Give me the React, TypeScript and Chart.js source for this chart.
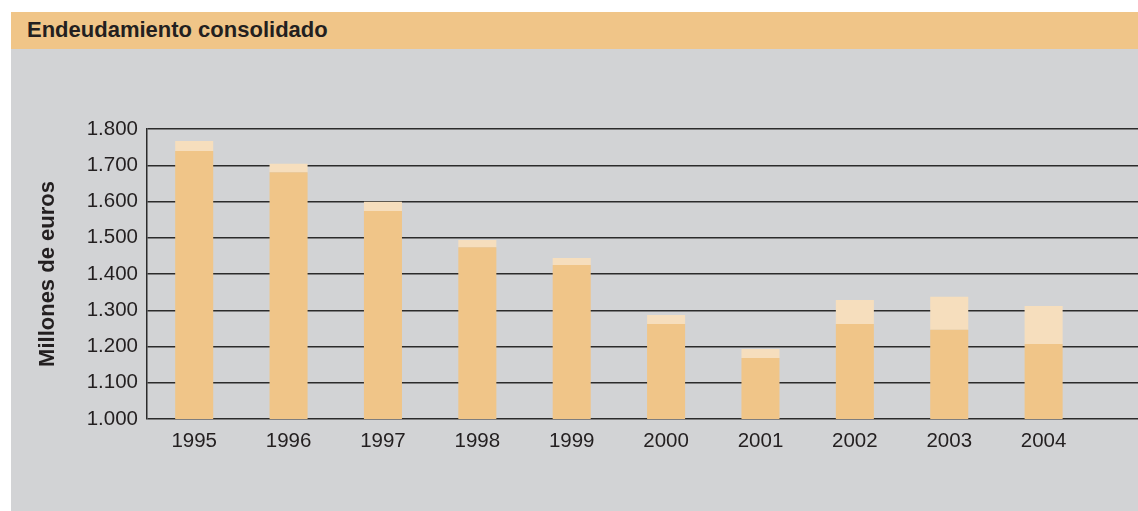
import React, { useEffect, useRef } from "react";
import { Chart, registerables } from "chart.js";

Chart.register(...registerables);

const TITLE = "Endeudamiento consolidado";
const Y_TITLE = "Millones de euros";
const YEARS = ["1995", "1996", "1997", "1998", "1999", "2000", "2001", "2002", "2003", "2004"];
// lower (darker) part of each bar
const BASE_VALUES = [1739, 1681, 1574, 1474, 1425, 1262, 1168, 1262, 1246, 1207];
// upper (lighter) part stacked on top
const TOP_VALUES = [28, 23, 25, 20, 19, 25, 25, 66, 91, 105];
const Y_MIN = 1000;
const Y_MAX = 1800;
const Y_STEP = 100;

const FONT = '"Liberation Sans", Arial, Helvetica, sans-serif';
const DARK = "#F0C588";
const LIGHT = "#F6DEBD";
const BG = "#D2D3D5";
const LINE = "#2b2b2b";
const TEXT = "#231F20";

function fmt(v: number): string {
  const s = String(Math.round(v));
  return s.replace(/\B(?=(\d{3})+(?!\d))/g, ".");
}

export default function App() {
  const ref = useRef<HTMLCanvasElement | null>(null);

  useEffect(() => {
    if (!ref.current) return;
    const chart = new Chart(ref.current, {
      type: "bar",
      data: {
        datasets: [
          {
            label: "base",
            data: BASE_VALUES.map((v, i) => ({ x: i, y: v })),
            backgroundColor: DARK,
            borderWidth: 0,
            barPercentage: 0.403,
            categoryPercentage: 1,
          },
          {
            label: "top",
            data: TOP_VALUES.map((v, i) => ({ x: i, y: v })),
            backgroundColor: LIGHT,
            borderWidth: 0,
            barPercentage: 0.403,
            categoryPercentage: 1,
          },
        ],
      },
      options: {
        responsive: false,
        animation: false,
        layout: { padding: { top: 80, left: 0, right: 0, bottom: 0 } },
        plugins: { legend: { display: false }, tooltip: { enabled: false } },
        scales: {
          x: {
            type: "linear",
            stacked: true,
            offset: false,
            min: -0.5,
            max: 10,
            grid: { display: false, offset: false },
            border: { display: false },
            afterBuildTicks: (scale: any) => {
              scale.ticks = YEARS.map((_, i) => ({ value: i }));
            },
            afterFit: (scale: any) => {
              scale.height = 92;
            },
            ticks: {
              autoSkip: false,
              maxRotation: 0,
              padding: 2,
              color: TEXT,
              font: { family: FONT, size: 20.5 },
              callback: (v: any) => YEARS[Number(v)] ?? "",
            },
          },
          y: {
            stacked: true,
            min: Y_MIN,
            max: Y_MAX,
            afterFit: (scale: any) => {
              scale.width = 136;
            },
            ticks: {
              stepSize: Y_STEP,
              padding: 9,
              color: TEXT,
              font: { family: FONT, size: 20.5 },
              callback: (v: any) => fmt(Number(v)),
            },
            grid: { color: LINE, lineWidth: 1.5, drawTicks: false },
            border: { display: true, color: LINE, width: 1.5 },
            title: {
              display: true,
              text: Y_TITLE,
              color: TEXT,
              font: { family: FONT, size: 22, weight: "bold" },
              padding: { top: 24, bottom: 0 },
            },
          },
        },
      },
    } as any);
    return () => chart.destroy();
  }, []);

  return (
    <div style={{ position: "absolute", left: 11, top: 12, width: 1127, height: 499, background: BG }}>
      <div
        style={{
          height: 37,
          lineHeight: "35px",
          background: DARK,
          color: TEXT,
          fontFamily: FONT,
          fontWeight: "bold",
          fontSize: 22,
          paddingLeft: 16,
          boxSizing: "border-box",
        }}
      >
        {TITLE}
      </div>
      <canvas ref={ref} width={1127} height={462} style={{ display: "block" }} />
    </div>
  );
}
